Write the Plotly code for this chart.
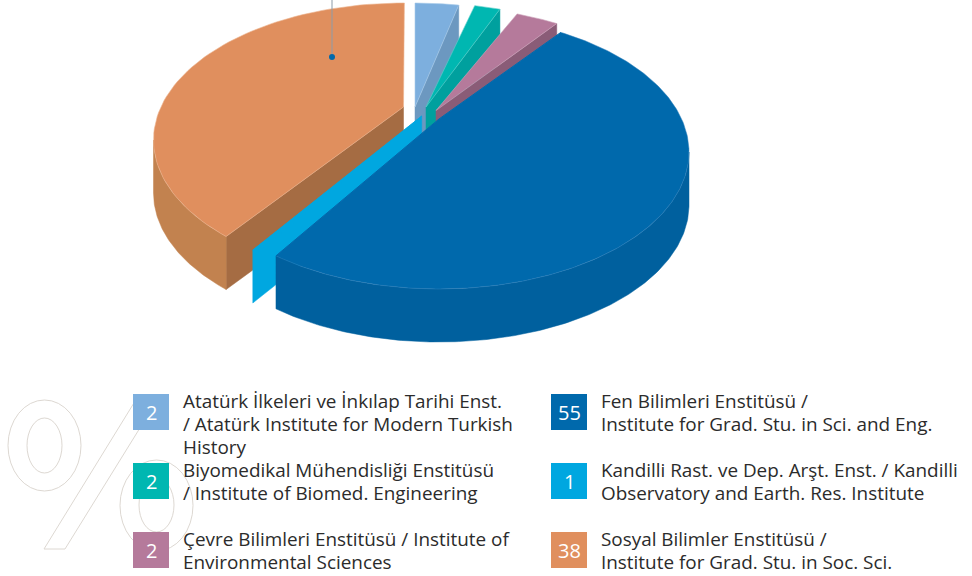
import numpy as np
import plotly.graph_objects as go

# ---- data ----
names = ["Atatürk İlkeleri ve İnkılap Tarihi Enst.\n/ Atatürk Institute for Modern Turkish\nHistory",
         "Biyomedikal Mühendisliği Enstitüsü\n/ Institute of Biomed. Engineering",
         "Çevre Bilimleri Enstitüsü / Institute of\nEnvironmental Sciences",
         "Fen Bilimleri Enstitüsü /\nInstitute for Grad. Stu. in Sci. and Eng.",
         "Kandilli Rast. ve Dep. Arşt. Enst. / Kandilli\nObservatory and Earth. Res. Institute",
         "Sosyal Bilimler Enstitüsü /\nInstitute for Grad. Stu. in Soc. Sci."]
label_values = [2, 2, 2, 55, 1, 38]
drawn_share = [2.8, 1.7, 2.8, 53.2, 0.5, 37.5]      # slice sizes as drawn, percent of the turn

# ---- styling ----
gap_after = [1.0, 1.6, 0.3, 0.0, 2.7, 0.0]           # degrees
center_x = [415, 426, 436, 439, 421.7, 403.5]
center_y = [140, 140, 143.5, 152, 149, 140]
top_color = ["#7DAFDE", "#00B7B1", "#B57A9B", "#0069AC", "#00A7E0", "#E08F5E"]
side_color = ["#6C98C0", "#00A09E", "#8A5C77", "#00609E", "#00A7E0", "#A56C43"]
rim_color = ["#6C98C0", "#00A09E", "#8A5C77", "#00609E", "#00A7E0", "#C2824F"]
edge_color = ["#A8CBEA", "#5FD0CB", "#CFA4BC", "#2F80BC", "#00A7E0", "#EDB48F"]
A, B, LIFT, DEPTH = 250, 137, 33, 53
FONT = "Open Sans"
TEXT = "#2B2B2B"

starts, ends = [], []
ang = 0.0
for s, g in zip(drawn_share, gap_after):
    starts.append(ang)
    ang += s * 3.6
    ends.append(ang)
    ang += g


def arc(i, a0, a1, n=80, dz=0.0):
    t = np.radians(np.linspace(a0, a1, n))
    return center_x[i] + A * np.sin(t), center_y[i] - B * np.cos(t) + dz


def poly(fig, x, y, color, line=None, lw=0):
    fig.add_trace(go.Scatter(x=np.append(x, x[0]), y=np.append(y, y[0]), mode="lines", fill="toself",
                             fillcolor=color, line=dict(color=line or color, width=lw or 0.5),
                             hoverinfo="skip", showlegend=False))


fig = go.Figure()
# legend-side percent sign (outline drawn under everything)
pc = "#DDD8D2"
shapes = []
for x0, x1, y0, y1 in [(8, 81, 400, 491), (27, 62, 418, 473), (120, 193, 460, 551), (139, 174, 478, 532)]:
    shapes.append(dict(type="circle", xref="x", yref="y", x0=x0, x1=x1, y0=y0, y1=y1,
                       line=dict(color=pc, width=1), layer="below"))
shapes.append(dict(type="path", xref="x", yref="y", path="M44,549 L137,398 L158.5,398 L65,549 Z",
                   line=dict(color=pc, width=1), layer="below"))


def slice_faces(i, wall_angle, rim=None):
    cx, ay = center_x[i], center_y[i] - LIFT
    ax, ey = arc(i, wall_angle, wall_angle, 1)
    poly(fig, np.array([cx, cx, ax[0], ax[0]]), np.array([ay, ay + DEPTH, ey[0] + DEPTH, ey[0]]), side_color[i])
    if rim:
        x0, y0 = arc(i, rim[0], rim[1])
        poly(fig, np.r_[x0, x0[::-1]], np.r_[y0, y0[::-1] + DEPTH], rim_color[i])
    x, y = arc(i, starts[i], ends[i])
    poly(fig, np.r_[cx, x], np.r_[ay, y], top_color[i], edge_color[i], 0.6)


slice_faces(0, ends[0])
slice_faces(1, ends[1])
slice_faces(2, ends[2])
slice_faces(5, starts[5], rim=(starts[5], 270))
slice_faces(4, ends[4])

# large slice: rim first, then top
x0, y0 = arc(3, 90, ends[3], 160)
poly(fig, np.r_[x0, x0[::-1]], np.r_[y0, y0[::-1] + DEPTH], rim_color[3])
x, y = arc(3, starts[3], ends[3], 240)
poly(fig, np.r_[center_x[3], x], np.r_[center_y[3] - LIFT, y], top_color[3], edge_color[3], 0.5)
# repaint upper edges without the light rim
fig.add_trace(go.Scatter(x=[center_x[3], x[0]], y=[center_y[3] - LIFT, y[0]], mode="lines",
                         line=dict(color=top_color[3], width=1), hoverinfo="skip", showlegend=False))
fig.add_trace(go.Scatter(x=[center_x[3], x[-1]], y=[center_y[3] - LIFT, y[-1]], mode="lines",
                         line=dict(color=top_color[3], width=1), hoverinfo="skip", showlegend=False))

# leader line with dot
fig.add_trace(go.Scatter(x=[332, 332], y=[0, 57], mode="lines",
                         line=dict(color="#8C9BA8", width=1), hoverinfo="skip", showlegend=False))
fig.add_trace(go.Scatter(x=[332], y=[57], mode="markers",
                         marker=dict(size=6, color="#0069AC", line=dict(width=0)),
                         hoverinfo="skip", showlegend=False))

# legend
box_x = [133, 133, 133, 551, 551, 551]
box_y = [394, 463, 532, 394, 463, 532]
annos = []
for i, (name, v) in enumerate(zip(names, label_values)):
    shapes.append(dict(type="rect", xref="x", yref="y", x0=box_x[i], x1=box_x[i] + 36,
                       y0=box_y[i], y1=box_y[i] + 36, fillcolor=top_color[i],
                       line=dict(width=0), layer="above"))
    annos.append(dict(x=box_x[i] + 18, y=box_y[i] + 18, xref="x", yref="y", text=str(v), showarrow=False,
                      font=dict(family=FONT, size=20, color="white"), xanchor="center", yanchor="middle"))
    for k, line in enumerate(name.split("\n")):
        annos.append(dict(x=box_x[i] + 49, y=box_y[i] + 6.5 + k * 23, xref="x", yref="y", text=line,
                          showarrow=False, font=dict(family=FONT, size=18.9, color=TEXT),
                          xanchor="left", yanchor="middle", borderpad=0))

fig.update_layout(width=972, height=576, margin=dict(l=0, r=0, t=0, b=0),
                  paper_bgcolor="white", plot_bgcolor="white", showlegend=False,
                  xaxis=dict(range=[0, 972], visible=False, fixedrange=True),
                  yaxis=dict(range=[576, 0], visible=False, fixedrange=True),
                  shapes=shapes, annotations=annos)
fig.write_html("out.html", config={"displayModeBar": False},
               post_script="document.body.style.margin='0';document.documentElement.style.overflow='hidden';")
